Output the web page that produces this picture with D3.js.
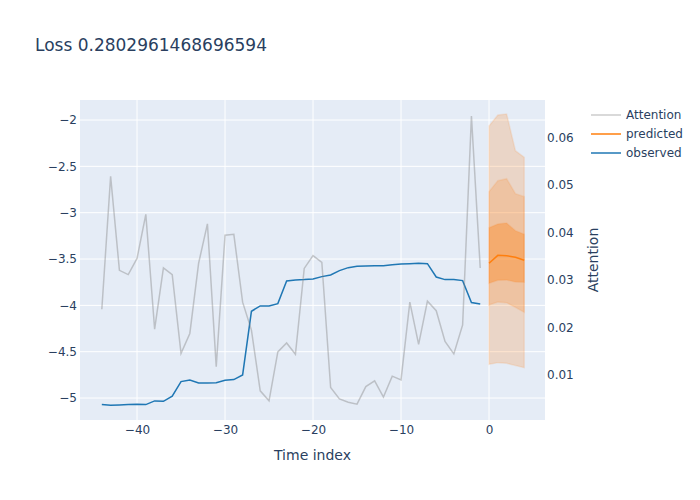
<!DOCTYPE html>
<html>
<head>
<meta charset="utf-8">
<script src="https://cdn.jsdelivr.net/npm/d3@7"></script>
<style>
    body { margin: 0; background: #fff; }
    text { font-family: "DejaVu Sans", sans-serif; fill: #2a3f5f; }
</style>
</head>
<body>
<div id="chart"></div>
<script>
// data
var time_obs = [-44, -43, -42, -41, -40, -39, -38, -37, -36, -35, -34, -33, -32, -31, -30,
    -29, -28, -27, -26, -25, -24, -23, -22, -21, -20, -19, -18, -17, -16, -15,
    -14, -13, -12, -11, -10, -9, -8, -7, -6, -5, -4, -3, -2, -1];
var observed = [-5.07, -5.078, -5.074, -5.071, -5.067, -5.071, -5.031, -5.035, -4.98, -4.823,
    -4.805, -4.837, -4.837, -4.834, -4.808, -4.801, -4.751, -4.064, -4.006, -4.006,
    -3.981, -3.737, -3.726, -3.722, -3.715, -3.69, -3.672, -3.625, -3.593, -3.578,
    -3.575, -3.572, -3.572, -3.561, -3.553, -3.55, -3.546, -3.55, -3.694, -3.722,
    -3.722, -3.733, -3.97, -3.985];
var attention = [0.0238, 0.0518, 0.032, 0.0311, 0.0345, 0.0438, 0.0196, 0.0325, 0.0311, 0.0145,
    0.0187, 0.0335, 0.0418, 0.0117, 0.0394, 0.0396, 0.0253, 0.0194, 0.0066, 0.0045,
    0.0148, 0.0167, 0.0143, 0.0324, 0.0351, 0.0337, 0.0073, 0.0049, 0.0042, 0.0038,
    0.0075, 0.0087, 0.0053, 0.0097, 0.0089, 0.0253, 0.0164, 0.0255, 0.0235, 0.017,
    0.0144, 0.0205, 0.0645, 0.0325];
var time_pred = [0, 1, 2, 3, 4];
var predicted = [-3.546, -3.46, -3.464, -3.481, -3.514];
var q_outer_hi = [-2.065, -1.946, -1.935, -2.331, -2.403];
var q_outer_lo = [-4.636, -4.618, -4.625, -4.65, -4.672];
var q_mid_hi = [-2.773, -2.655, -2.633, -2.795, -2.827];
var q_mid_lo = [-3.996, -3.963, -3.971, -4.021, -4.075];
var q_inner_hi = [-3.162, -3.122, -3.111, -3.194, -3.233];
var q_inner_lo = [-3.762, -3.73, -3.726, -3.748, -3.751];

var x_ticks = [-40, -30, -20, -10, 0];
var y_ticks = [-5, -4.5, -4, -3.5, -3, -2.5, -2];
var y2_ticks = [0.01, 0.02, 0.03, 0.04, 0.05, 0.06];
var legend_names = ['Attention', 'predicted', 'observed'];
var title_text = 'Loss 0.2802961468696594';

//创建SVG元素
var chart_width = 700;
var chart_height = 500;
var plot_left = 80, plot_right = 545, plot_top = 100, plot_bottom = 420;

var svg = d3.select('#chart')
    .append('svg')
    .attr('width', chart_width)
    .attr('height', chart_height)

var x_scale = d3.scaleLinear()
    .domain([-46.48, 6.36])
    .range([plot_left, plot_right])

var y_scale = d3.scaleLinear()
    .domain([-5.237, -1.784])
    .range([plot_bottom, plot_top])

var y2_scale = d3.scaleLinear()
    .domain([0.00046, 0.0679])
    .range([plot_bottom, plot_top])

// background
svg.append('rect')
    .attr('x', plot_left)
    .attr('y', plot_top)
    .attr('width', plot_right - plot_left)
    .attr('height', plot_bottom - plot_top)
    .attr('fill', '#e5ecf6')

// grid
svg.append('g')
    .selectAll('line')
    .data(x_ticks)
    .enter()
    .append('line')
    .attr('x1', function (d) { return x_scale(d); })
    .attr('x2', function (d) { return x_scale(d); })
    .attr('y1', plot_top)
    .attr('y2', plot_bottom)
    .attr('stroke', '#fff')
    .attr('stroke-width', 1)

svg.append('g')
    .selectAll('line')
    .data(y_ticks)
    .enter()
    .append('line')
    .attr('x1', plot_left)
    .attr('x2', plot_right)
    .attr('y1', function (d) { return y_scale(d); })
    .attr('y2', function (d) { return y_scale(d); })
    .attr('stroke', '#fff')
    .attr('stroke-width', 1)

// axes
svg.append('g')
    .attr('transform', 'translate(0,' + plot_bottom + ')')
    .call(d3.axisBottom(x_scale).tickValues(x_ticks).tickFormat(d3.format('~g')).tickSize(0).tickPadding(5))
svg.append('g')
    .attr('transform', 'translate(' + plot_left + ',0)')
    .call(d3.axisLeft(y_scale).tickValues(y_ticks).tickFormat(d3.format('~g')).tickSize(0).tickPadding(3))
svg.append('g')
    .attr('transform', 'translate(' + plot_right + ',0)')
    .call(d3.axisRight(y2_scale).tickValues(y2_ticks).tickFormat(d3.format('.2f')).tickSize(0).tickPadding(2))

svg.selectAll('.domain').remove()
svg.selectAll('.tick text')
    .attr('font-size', 12)
    .attr('font-family', '"DejaVu Sans", sans-serif')
    .attr('fill', '#2a3f5f')

// prediction bands
var bands = [[q_outer_lo, q_outer_hi], [q_mid_lo, q_mid_hi], [q_inner_lo, q_inner_hi]];
var band_alpha = [0.2, 0.2, 0.35];
var band_area = d3.area()
    .x(function (d) { return x_scale(d.t); })
    .y0(function (d) { return y_scale(d.lo); })
    .y1(function (d) { return y_scale(d.hi); })

svg.append('g')
    .selectAll('path')
    .data(bands)
    .enter()
    .append('path')
    .attr('d', function (b) {
        return band_area(time_pred.map(function (t, i) {
            return { t: t, lo: b[0][i], hi: b[1][i] };
        }));
    })
    .attr('fill', function (b, i) { return 'rgba(255,127,14,' + band_alpha[i] + ')'; })
    .attr('stroke', 'rgba(255,127,14,0.12)')
    .attr('stroke-width', 1.5)

var line = d3.line()
    .x(function (d) { return x_scale(d[0]); })
    .y(function (d) { return y_scale(d[1]); })

var line2 = d3.line()
    .x(function (d) { return x_scale(d[0]); })
    .y(function (d) { return y2_scale(d[1]); })

// observed
svg.append('path')
    .datum(d3.zip(time_obs, observed))
    .attr('d', line)
    .attr('fill', 'none')
    .attr('stroke', '#1f77b4')
    .attr('stroke-width', 1.5)

// predicted
svg.append('path')
    .datum(d3.zip(time_pred, predicted))
    .attr('d', line)
    .attr('fill', 'none')
    .attr('stroke', '#ff7f0e')
    .attr('stroke-width', 1.5)

// attention
svg.append('path')
    .datum(d3.zip(time_obs, attention))
    .attr('d', line2)
    .attr('fill', 'none')
    .attr('stroke', 'grey')
    .attr('stroke-opacity', 0.4)
    .attr('stroke-width', 1.5)

// titles
svg.append('text')
    .text(title_text)
    .attr('x', 35)
    .attr('y', 51)
    .attr('font-size', 17)

svg.append('text')
    .text('Time index')
    .attr('x', (plot_left + plot_right) / 2)
    .attr('y', 460)
    .attr('font-size', 14)
    .attr('text-anchor', 'middle')

svg.append('text')
    .text('Attention')
    .attr('transform', 'translate(598,' + (plot_top + plot_bottom) / 2 + ') rotate(-90)')
    .attr('font-size', 14)
    .attr('text-anchor', 'middle')

// legend
var legend_colors = ['grey', '#ff7f0e', '#1f77b4'];
var legend_opacity = [0.4, 1, 1];
var legend = svg.append('g')
    .selectAll('g')
    .data(legend_names)
    .enter()
    .append('g')
    .attr('transform', function (d, i) { return 'translate(591,' + (115 + i * 19) + ')'; })

legend.append('line')
    .attr('x1', 0)
    .attr('x2', 30)
    .attr('stroke', function (d, i) { return legend_colors[i]; })
    .attr('stroke-opacity', function (d, i) { return legend_opacity[i]; })
    .attr('stroke-width', 1.5)

legend.append('text')
    .text(function (d) { return d; })
    .attr('x', 35)
    .attr('dy', '0.35em')
    .attr('font-size', 12)
</script>
</body>
</html>
